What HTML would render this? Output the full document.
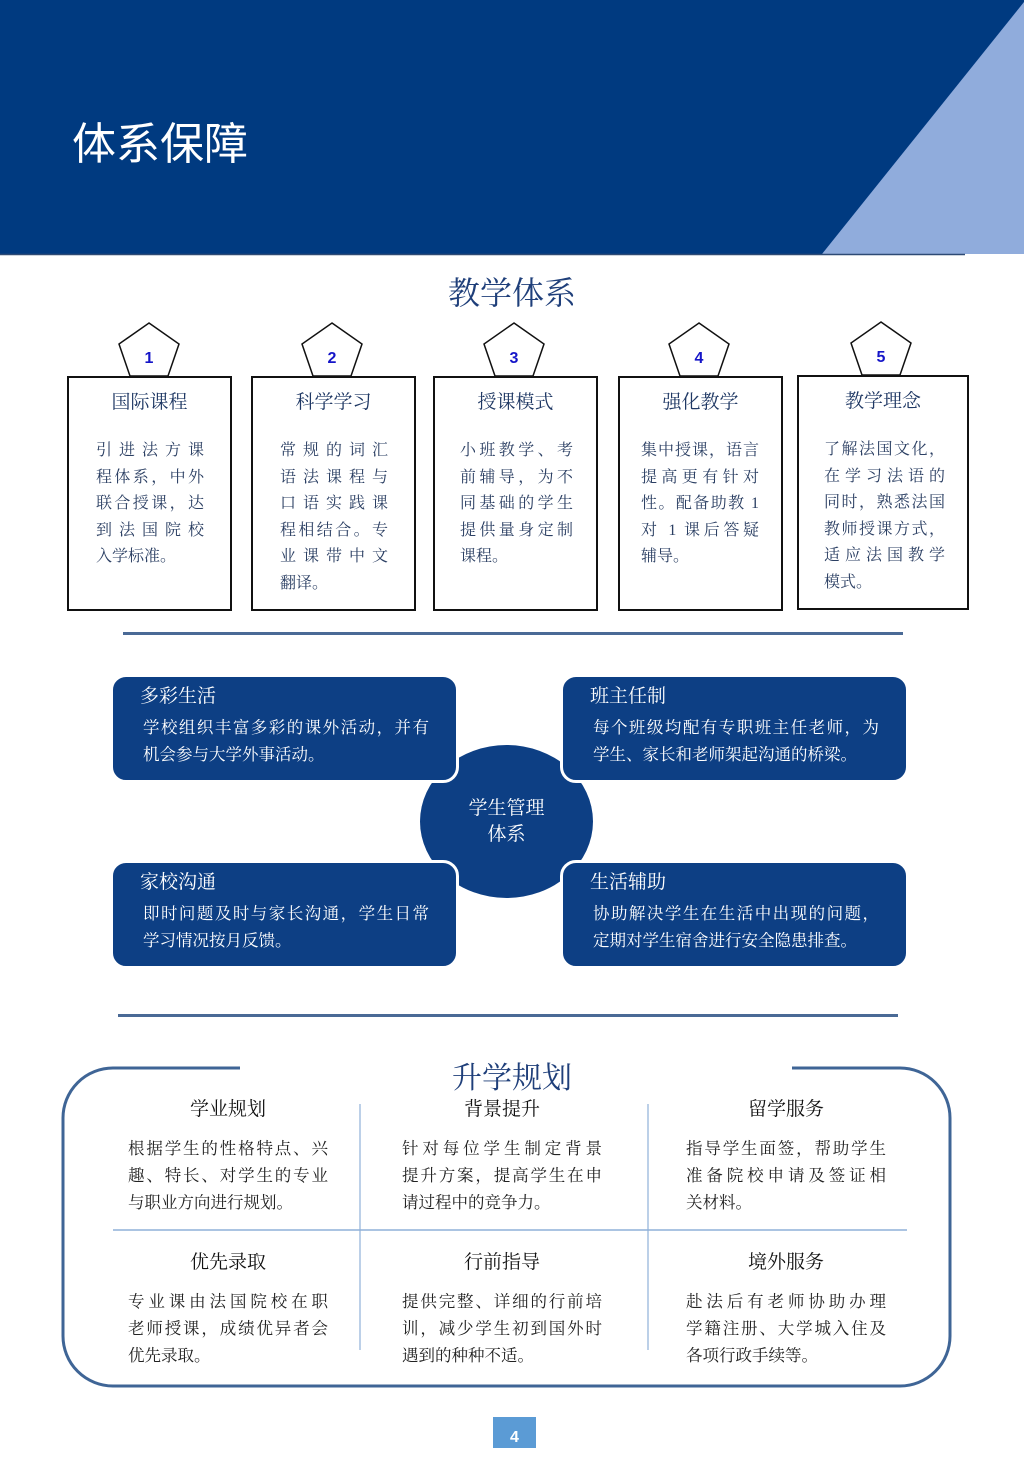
<!DOCTYPE html>
<html><head><meta charset="utf-8"><style>
*{margin:0;padding:0;box-sizing:border-box}
body{width:1024px;height:1448px;position:relative;background:#fff;font-family:"Liberation Serif","Noto Serif CJK SC",serif;overflow:hidden}
.a{position:absolute}
.j{text-align:justify;text-align-last:justify;white-space:nowrap}
.box{position:absolute;border:2px solid #111;background:#fff;top:376px;height:235px}
.box h3{font-weight:normal;font-size:19px;color:#1f3864;text-align:center;margin-top:9px}
.box .t{position:absolute;left:27px;width:108px;top:60px;font-size:16px;color:#2b3f63;line-height:26.5px}
.pent{position:absolute;top:322px;width:62px;height:55px}
.card{position:absolute;background:#0d3f84;border:3px solid #fff;border-radius:16px;width:349px;height:109px;color:#fff}
.card h4{font-weight:normal;font-size:19px;margin:4px 0 0 27px}
.card .t{margin:6px 0 0 30px;width:286px;font-size:16.5px;line-height:27px}
.cell{position:absolute;width:200px}
.cell h4{font-weight:normal;font-size:19px;text-align:center;color:#111}
.cell .t{font-size:16.5px;line-height:27px;margin-top:14px;color:#222}
</style></head><body>
<div class="a" style="left:0;top:0;width:1024px;height:254px;background:#003a80"></div>
<svg class="a" style="left:0;top:0" width="1024" height="260"><polygon points="822,254 1024,254 1024,2" fill="#90acdc"/><line x1="0" y1="254.5" x2="965" y2="254.5" stroke="#2e4a74" stroke-width="1.5"/></svg>
<div class="a" style="left:72px;top:108px;font-size:44px;color:#fff;font-family:'Liberation Sans','Noto Sans CJK SC',sans-serif">体系保障</div>
<div class="a" style="left:0;width:1024px;top:268px;text-align:center;font-size:32px;color:#1f3f7a">教学体系</div>

<svg class="pent" style="left:118px"><polygon points="31,1 61,22 50,54 12,54 1,22" fill="#fff" stroke="#111" stroke-width="1.5"/><text x="31" y="41" text-anchor="middle" font-family="Liberation Sans" font-weight="bold" font-size="16" fill="#1515c8">1</text></svg>
<svg class="pent" style="left:301px"><polygon points="31,1 61,22 50,54 12,54 1,22" fill="#fff" stroke="#111" stroke-width="1.5"/><text x="31" y="41" text-anchor="middle" font-family="Liberation Sans" font-weight="bold" font-size="16" fill="#1515c8">2</text></svg>
<svg class="pent" style="left:483px"><polygon points="31,1 61,22 50,54 12,54 1,22" fill="#fff" stroke="#111" stroke-width="1.5"/><text x="31" y="41" text-anchor="middle" font-family="Liberation Sans" font-weight="bold" font-size="16" fill="#1515c8">3</text></svg>
<svg class="pent" style="left:668px"><polygon points="31,1 61,22 50,54 12,54 1,22" fill="#fff" stroke="#111" stroke-width="1.5"/><text x="31" y="41" text-anchor="middle" font-family="Liberation Sans" font-weight="bold" font-size="16" fill="#1515c8">4</text></svg>
<svg class="pent" style="left:850px;top:321px"><polygon points="31,1 61,22 50,54 12,54 1,22" fill="#fff" stroke="#111" stroke-width="1.5"/><text x="31" y="41" text-anchor="middle" font-family="Liberation Sans" font-weight="bold" font-size="16" fill="#1515c8">5</text></svg>

<div class="box" style="left:67px;width:165px"><h3>国际课程</h3><div class="t"><div class="j">引进法方课</div><div class="j">程体系，中外</div><div class="j">联合授课，达</div><div class="j">到法国院校</div><div>入学标准。</div></div></div>
<div class="box" style="left:251px;width:165px"><h3>科学学习</h3><div class="t"><div class="j">常规的词汇</div><div class="j">语法课程与</div><div class="j">口语实践课</div><div class="j">程相结合。专</div><div class="j">业课带中文</div><div>翻译。</div></div></div>
<div class="box" style="left:433px;width:165px"><h3>授课模式</h3><div class="t" style="left:25px;width:113px"><div class="j">小班教学、考</div><div class="j">前辅导，为不</div><div class="j">同基础的学生</div><div class="j">提供量身定制</div><div>课程。</div></div></div>
<div class="box" style="left:618px;width:165px"><h3>强化教学</h3><div class="t" style="left:21px;width:118px"><div class="j">集中授课，语言</div><div class="j">提高更有针对</div><div class="j">性。配备助教 1</div><div class="j">对 1 课后答疑</div><div>辅导。</div></div></div>
<div class="box" style="left:797px;width:172px;top:375px"><h3>教学理念</h3><div class="t" style="left:25px;width:121px"><div class="j">了解法国文化，</div><div class="j">在学习法语的</div><div class="j">同时，熟悉法国</div><div class="j">教师授课方式，</div><div class="j">适应法国教学</div><div>模式。</div></div></div>

<div class="a" style="left:123px;top:632px;width:780px;height:3px;background:#4a6a96"></div>

<div class="a" style="left:420px;top:745px;width:173px;height:153px;border-radius:50%;background:#0d3f84"></div>
<div class="card" style="left:110px;top:674px"><h4>多彩生活</h4><div class="t"><div class="j">学校组织丰富多彩的课外活动，并有</div><div>机会参与大学外事活动。</div></div></div>
<div class="card" style="left:560px;top:674px"><h4>班主任制</h4><div class="t"><div class="j">每个班级均配有专职班主任老师，为</div><div>学生、家长和老师架起沟通的桥梁。</div></div></div>
<div class="card" style="left:110px;top:860px"><h4>家校沟通</h4><div class="t"><div class="j">即时问题及时与家长沟通，学生日常</div><div>学习情况按月反馈。</div></div></div>
<div class="card" style="left:560px;top:860px"><h4>生活辅助</h4><div class="t"><div class="j">协助解决学生在生活中出现的问题，</div><div>定期对学生宿舍进行安全隐患排查。</div></div></div>
<div class="a" style="left:440px;top:796px;width:133px;text-align:center;color:#fff;font-size:19px;line-height:26px">学生管理<br>体系</div>

<div class="a" style="left:118px;top:1014px;width:780px;height:3px;background:#4a6a96"></div>

<svg class="a" style="left:0;top:1050px" width="1024" height="350">
<path d="M240 18 H113 A50 50 0 0 0 63 68 V286 A50 50 0 0 0 113 336 H900 A50 50 0 0 0 950 286 V68 A50 50 0 0 0 900 18 H792" fill="none" stroke="#3f6596" stroke-width="3"/>
<line x1="360" y1="54" x2="360" y2="300" stroke="#8fb0d8" stroke-width="1.2"/>
<line x1="648" y1="54" x2="648" y2="300" stroke="#8fb0d8" stroke-width="1.2"/>
<line x1="113" y1="180" x2="907" y2="180" stroke="#8fb0d8" stroke-width="1.5"/>
</svg>
<div class="a" style="left:0;width:1024px;top:1053px;text-align:center;font-size:30px;color:#1f3f7a">升学规划</div>

<div class="cell" style="left:128px;top:1094px"><h4>学业规划</h4><div class="t"><div class="j">根据学生的性格特点、兴</div><div class="j">趣、特长、对学生的专业</div><div>与职业方向进行规划。</div></div></div>
<div class="cell" style="left:402px;top:1094px"><h4>背景提升</h4><div class="t"><div class="j">针对每位学生制定背景</div><div class="j">提升方案，提高学生在申</div><div>请过程中的竞争力。</div></div></div>
<div class="cell" style="left:686px;top:1094px"><h4>留学服务</h4><div class="t"><div class="j">指导学生面签，帮助学生</div><div class="j">准备院校申请及签证相</div><div>关材料。</div></div></div>
<div class="cell" style="left:128px;top:1247px"><h4>优先录取</h4><div class="t"><div class="j">专业课由法国院校在职</div><div class="j">老师授课，成绩优异者会</div><div>优先录取。</div></div></div>
<div class="cell" style="left:402px;top:1247px"><h4>行前指导</h4><div class="t"><div class="j">提供完整、详细的行前培</div><div class="j">训，减少学生初到国外时</div><div>遇到的种种不适。</div></div></div>
<div class="cell" style="left:686px;top:1247px"><h4>境外服务</h4><div class="t"><div class="j">赴法后有老师协助办理</div><div class="j">学籍注册、大学城入住及</div><div>各项行政手续等。</div></div></div>

<div class="a" style="left:493px;top:1417px;width:43px;height:31px;background:#5b9bd5;color:#fff;text-align:center;font:bold 16px/42px 'Liberation Sans',sans-serif">4</div>
</body></html>
